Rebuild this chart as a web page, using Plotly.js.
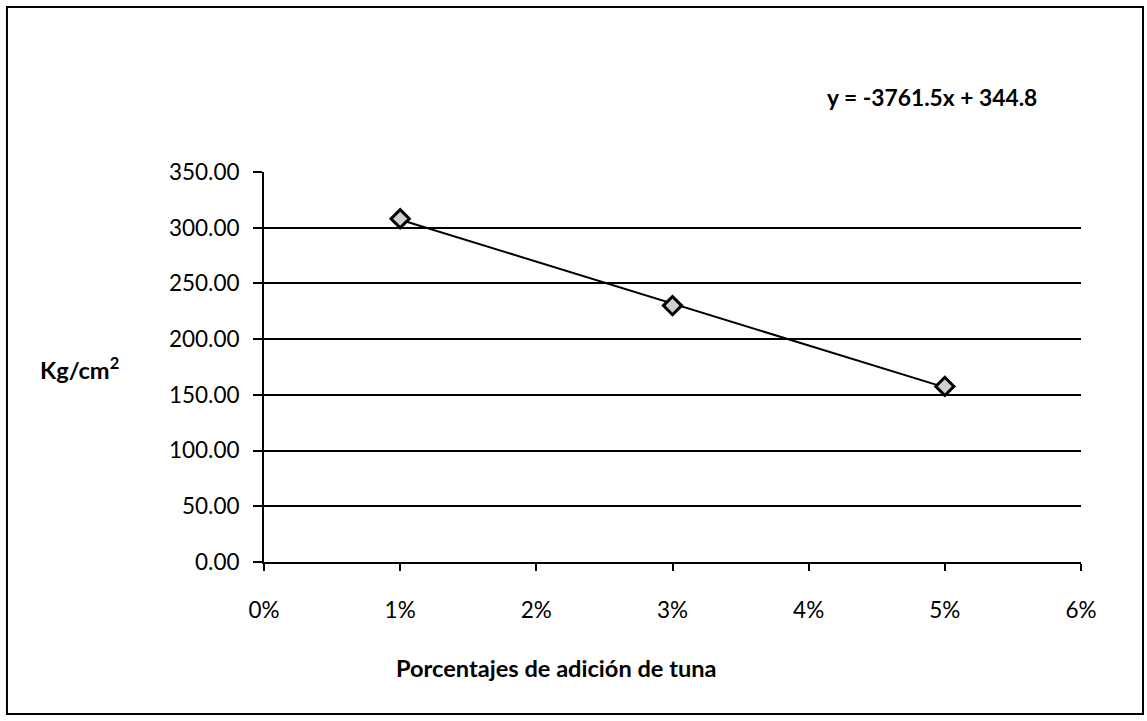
<!DOCTYPE html>
<html>
<head>
<meta charset="utf-8">
<script src="https://cdn.plot.ly/plotly-3.0.1.min.js"></script>
<style>
html,body{margin:0;padding:0;background:#fff;}
#chart{width:1147px;height:721px;}
</style>
</head>
<body>
<div id="chart"></div>
<script>
// Data
const percentages = [0.01, 0.03, 0.05];
const strength = [308.1, 230.1, 157.6];
const trendSlope = -3761.5;
const trendIntercept = 344.8;
const xTickVals = [0, 0.01, 0.02, 0.03, 0.04, 0.05, 0.06];
const xTickText = ['0%', '1%', '2%', '3%', '4%', '5%', '6%'];
const yTickVals = [0, 50, 100, 150, 200, 250, 300, 350];
const yTickText = ['0.00', '50.00', '100.00', '150.00', '200.00', '250.00', '300.00', '350.00'];
const equationText = 'y = -3761.5x + 344.8';
const xTitle = 'Porcentajes de adición de tuna';
const yTitle = 'Kg/cm<sup>2</sup>';

const trendX = [percentages[0], percentages[percentages.length - 1]];
const trendY = trendX.map(x => trendSlope * x + trendIntercept);

const FONT = 'Lato, "Open Sans", sans-serif';

const traces = [
  {
    x: trendX, y: trendY, type: 'scatter', mode: 'lines',
    line: {color: '#000', width: 2}, hoverinfo: 'skip', showlegend: false
  },
  {
    x: percentages, y: strength, type: 'scatter', mode: 'markers',
    marker: {symbol: 'diamond', size: 14, color: '#d0d0d0', line: {color: '#000', width: 3}},
    showlegend: false
  }
];

const layout = {
  width: 1147, height: 721,
  margin: {l: 264, r: 66, t: 172, b: 159},
  paper_bgcolor: '#fff', plot_bgcolor: '#fff',
  font: {family: FONT, color: '#000', size: 22},
  showlegend: false,
  xaxis: {
    range: [0, 0.06], tickvals: xTickVals, ticktext: xTickText,
    showgrid: false, zeroline: false, showline: true, linecolor: '#000', linewidth: 2,
    ticks: 'outside', ticklen: 7, tickwidth: 2, tickcolor: '#000',
    ticklabelstandoff: 20,
    tickfont: {family: FONT, size: 22.5, color: '#000'}, fixedrange: true
  },
  yaxis: {
    range: [0, 350], tickvals: yTickVals, ticktext: yTickText,
    showgrid: true, gridcolor: '#000', gridwidth: 2,
    zeroline: false, showline: true, linecolor: '#000', linewidth: 2,
    ticks: 'outside', ticklen: 9, tickwidth: 2, tickcolor: '#000',
    ticklabelstandoff: 9,
    tickfont: {family: FONT, size: 22.5, color: '#000'}, fixedrange: true
  },
  annotations: [
    {text: '<b>' + equationText + '</b>', xref: 'paper', yref: 'paper', x: 0.8176, y: 1.1923,
     xanchor: 'center', yanchor: 'middle', showarrow: false,
     font: {family: FONT, size: 22.8, color: '#000'}},
    {text: '<b>' + xTitle + '</b>', xref: 'paper', yref: 'paper', x: 0.3586, y: -0.2718,
     xanchor: 'center', yanchor: 'middle', showarrow: false,
     font: {family: FONT, size: 23.6, color: '#000'}},
    {text: '<b>' + yTitle + '</b>', xref: 'paper', yref: 'paper', x: -0.2264, y: 0.497,
     xanchor: 'center', yanchor: 'middle', showarrow: false,
     font: {family: FONT, size: 23.6, color: '#000'}}
  ],
  shapes: [
    {type: 'rect', xref: 'paper', yref: 'paper', x0: -0.3146, x1: 1.0759, y0: -0.3897, y1: 1.4231,
     line: {color: '#000', width: 2}, fillcolor: 'rgba(0,0,0,0)', layer: 'below'}
  ]
};

Plotly.newPlot('chart', traces, layout, {displayModeBar: false, staticPlot: true});
</script>
</body>
</html>
